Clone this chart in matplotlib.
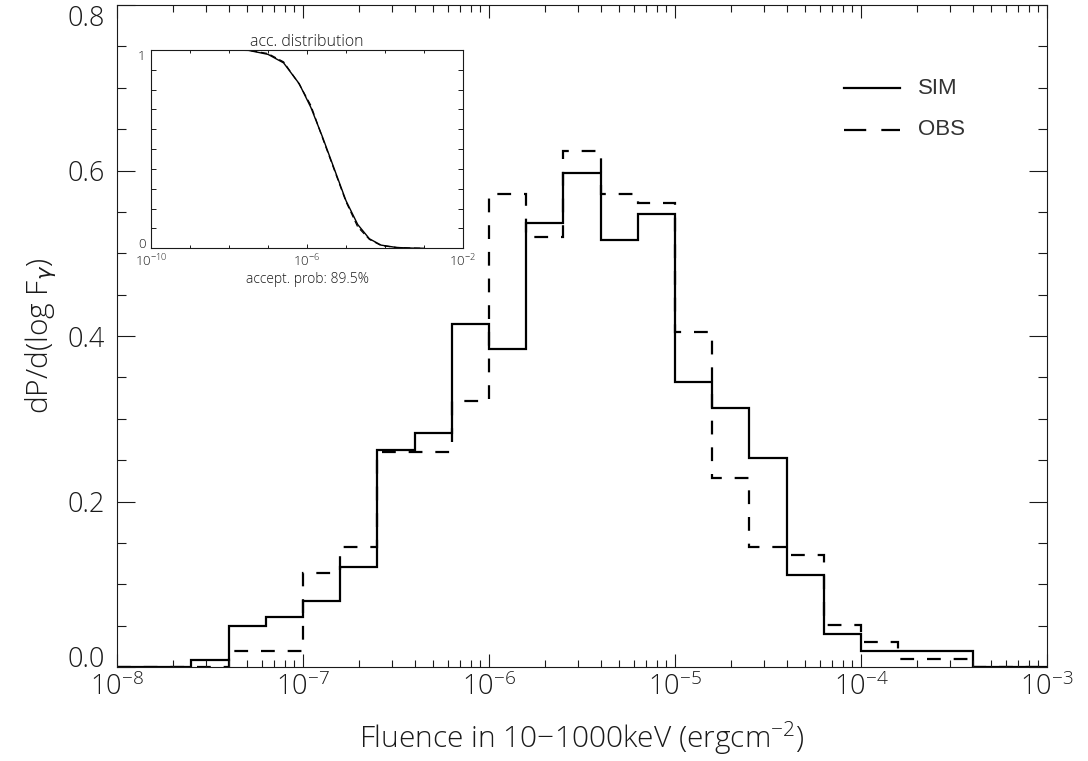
import numpy as np
import matplotlib
matplotlib.use('Agg')
import matplotlib.pyplot as plt
from matplotlib.ticker import FixedLocator, NullFormatter, FuncFormatter

plt.rcParams['font.family'] = ['Open Sans', 'DejaVu Sans']
plt.rcParams['font.weight'] = 'light'
plt.rcParams['axes.labelweight'] = 'light'
plt.rcParams['axes.titleweight'] = 'light'
plt.rcParams['mathtext.fontset'] = 'custom'
plt.rcParams['mathtext.rm'] = 'Open Sans:light'
plt.rcParams['mathtext.it'] = 'DejaVu Sans:italic'
plt.rcParams['mathtext.default'] = 'regular'

# histogram bin edges in log10(fluence), 0.2 dex bins
log_edges = [-8.0, -7.8, -7.6, -7.4, -7.2, -7.0, -6.8, -6.6, -6.4, -6.2, -6.0,
             -5.8, -5.6, -5.4, -5.2, -5.0, -4.8, -4.6, -4.4, -4.2, -4.0,
             -3.8, -3.6, -3.4, -3.2, -3.0]

sim_vals = [0.0, 0.0, 0.009, 0.050, 0.060, 0.080, 0.121, 0.262, 0.283, 0.415,
            0.384, 0.537, 0.597, 0.516, 0.547, 0.344, 0.313, 0.252, 0.111,
            0.040, 0.019, 0.019, 0.019, 0.0, 0.0]

obs_vals = [0.0, 0.0, 0.0, 0.019, 0.019, 0.114, 0.145, 0.260, 0.260, 0.322,
            0.571, 0.520, 0.623, 0.571, 0.561, 0.405, 0.228, 0.145, 0.135,
            0.051, 0.030, 0.010, 0.010, 0.0, 0.0]

# inset: accumulated distribution
acc_logx_sim = [-10.0, -9.0, -8.0, -7.5, -7.0, -6.6, -6.2, -5.9, -5.6, -5.3,
                -5.0, -4.7, -4.4, -4.1, -3.7, -3.3, -3.0]
acc_sim = [1.0, 1.0, 1.0, 0.998, 0.978, 0.935, 0.830, 0.710, 0.560, 0.400,
           0.240, 0.120, 0.048, 0.016, 0.004, 0.001, 0.0]
acc_logx_obs = [-10.0, -9.0, -8.0, -7.5, -7.0, -6.6, -6.2, -5.9, -5.6, -5.3,
                -5.0, -4.7, -4.4, -4.1, -3.7, -3.3, -3.0]
acc_obs = [1.0, 1.0, 1.0, 0.999, 0.982, 0.940, 0.828, 0.720, 0.555, 0.395,
           0.235, 0.108, 0.045, 0.014, 0.004, 0.001, 0.0]

ink = '#1a1a1a'
edges = 10.0 ** np.array(log_edges)

fig = plt.figure(figsize=(10.88, 7.61), dpi=100)
ax = fig.add_axes([0.10754, 0.12352, 0.85478, 0.86991])

ax.stairs(obs_vals, edges, baseline=None, color='black', lw=1.6,
          linestyle=(0, (6.2, 5.8)))
ax.stairs(sim_vals, edges, baseline=None, color='black', lw=1.6)

ax.set_xscale('log')
ax.set_xlim(1e-8, 1e-3)
ax.set_ylim(0, 0.8)

ax.xaxis.set_major_locator(FixedLocator([1e-8, 1e-7, 1e-6, 1e-5, 1e-4, 1e-3]))
ax.xaxis.set_major_formatter(FuncFormatter(lambda v, p: r'$10^{%d}$' % round(np.log10(v))))
ax.yaxis.set_major_locator(FixedLocator([0.0, 0.2, 0.4, 0.6, 0.8]))
ax.yaxis.set_minor_locator(FixedLocator(np.arange(0, 0.801, 0.05)))
ax.yaxis.set_major_formatter(FuncFormatter(lambda v, p: '%.1f' % v))

ax.tick_params(which='both', direction='in', top=True, right=True, colors=ink,
               width=0.8, labelsize=19.5)
ax.tick_params(axis='x', which='major', length=9.5, pad=5)
ax.tick_params(axis='x', which='minor', length=4.8)
ax.tick_params(axis='y', which='major', length=13, pad=9)
ax.tick_params(axis='y', which='minor', length=6.5)
for s in ax.spines.values():
    s.set_linewidth(0.8)
    s.set_color(ink)

ax.set_xlabel(r'Fluence in 10$-$1000keV (ergcm$^{-2}$)', fontsize=21.5, color=ink, labelpad=12)
ax.set_ylabel(r'dP/d(log F$_{\mathit{\gamma}}$)', fontsize=21.5, color=ink, labelpad=6)

# legend drawn by hand in axes fraction
ax.plot([0.7817, 0.842], [0.8746, 0.8746], transform=ax.transAxes, color='black', lw=1.6)
ax.plot([0.7817, 0.842], [0.8112, 0.8112], transform=ax.transAxes, color='black', lw=1.6,
        linestyle=(0, (10, 6.8)))
ax.text(0.8613, 0.8746, 'SIM', transform=ax.transAxes, fontsize=16, color='#333333',
        va='center', ha='left', family='Liberation Sans', weight='normal')
ax.text(0.8613, 0.8112, 'OBS', transform=ax.transAxes, fontsize=16, color='#333333',
        va='center', ha='left', family='Liberation Sans', weight='normal')

# inset
axi = fig.add_axes([0.13879, 0.67372, 0.28676, 0.26058])
axi.plot(10.0 ** np.array(acc_logx_obs), acc_obs, color='black', lw=0.9,
         linestyle=(0, (5, 3)))
axi.plot(10.0 ** np.array(acc_logx_sim), acc_sim, color='black', lw=1.0)
axi.set_xscale('log')
axi.set_xlim(1e-10, 1e-2)
axi.set_ylim(0, 1)
axi.xaxis.set_major_locator(FixedLocator([1e-10, 1e-6, 1e-2]))
axi.xaxis.set_minor_locator(FixedLocator([10.0 ** k for k in range(-10, -1)]))
axi.xaxis.set_minor_formatter(NullFormatter())
axi.xaxis.set_major_formatter(FuncFormatter(lambda v, p: r'$10^{%d}$' % round(np.log10(v))))
axi.yaxis.set_major_locator(FixedLocator([0, 1]))
axi.yaxis.set_minor_locator(FixedLocator(np.arange(0, 1.001, 0.1)))
axi.yaxis.set_major_formatter(FuncFormatter(lambda v, p: '%d' % v))
axi.tick_params(which='both', direction='in', top=True, right=True, colors=ink,
                width=0.7, labelsize=9.5)
axi.tick_params(axis='x', which='major', length=3, pad=3)
axi.tick_params(axis='x', which='minor', length=2.2)
axi.tick_params(axis='y', which='major', length=4.5, pad=4)
axi.tick_params(axis='y', which='minor', length=3.3)
for s in axi.spines.values():
    s.set_linewidth(0.8)
    s.set_color(ink)
axi.set_title('acc. distribution', fontsize=11.5, color=ink, pad=3)
axi.set_xlabel('accept. prob: 89.5%', fontsize=10, color=ink, labelpad=2)

# end labels sit inside the axis range, as in the original
fig.canvas.draw()
for a in (ax, axi):
    ylabs = a.get_yticklabels()
    ylabs[0].set_verticalalignment('baseline')
    ylabs[-1].set_verticalalignment('top')

fig.savefig('out.png', dpi=100)
